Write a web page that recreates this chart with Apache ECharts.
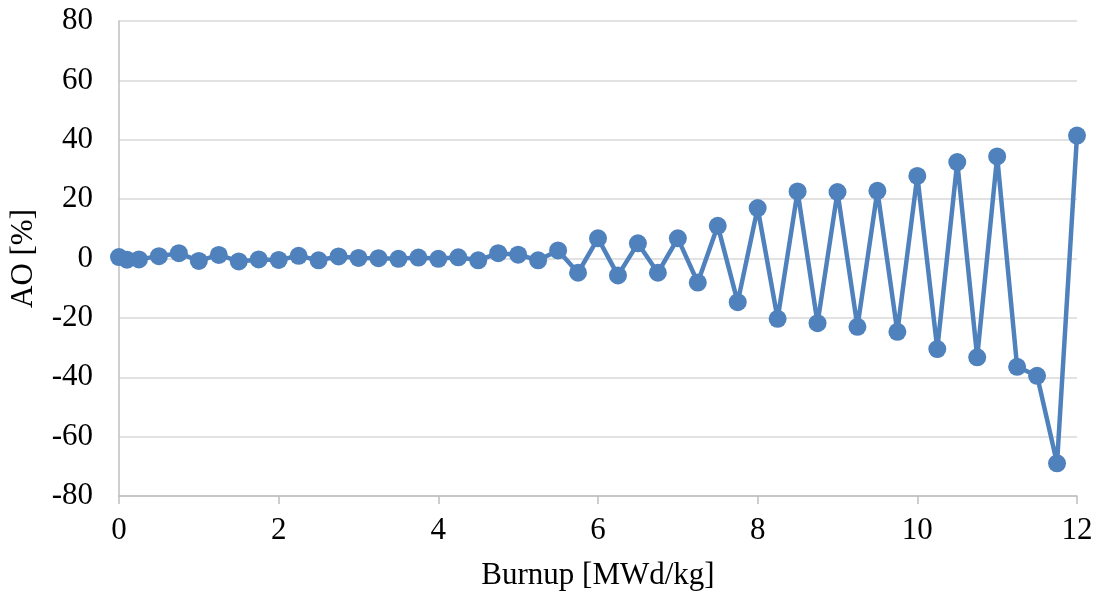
<!DOCTYPE html>
<html>
<head>
<meta charset="utf-8">
<script src="https://cdn.jsdelivr.net/npm/echarts@6/dist/echarts.min.js"></script>
<style>
html,body{margin:0;padding:0;background:#fff;}
#chart{width:1101px;height:596px;}
</style>
</head>
<body>
<div id="chart"></div>
<script>
const burnup = [0, 0.1, 0.25, 0.5, 0.75, 1.0, 1.25, 1.5, 1.75, 2.0, 2.25, 2.5, 2.75, 3.0, 3.25, 3.5, 3.75, 4.0, 4.25, 4.5, 4.75, 5.0, 5.25, 5.5, 5.75, 6.0, 6.25, 6.5, 6.75, 7.0, 7.25, 7.5, 7.75, 8.0, 8.25, 8.5, 8.75, 9.0, 9.25, 9.5, 9.75, 10.0, 10.25, 10.5, 10.75, 11.0, 11.25, 11.5, 11.75, 12.0];
const ao = [0.5, -0.4, -0.3, 0.8, 1.8, -0.8, 1.2, -1.0, -0.3, -0.5, 0.9, -0.6, 0.7, 0.2, 0.1, -0.1, 0.3, -0.1, 0.4, -0.6, 1.8, 1.3, -0.6, 2.7, -4.8, 6.8, -5.7, 5.1, -4.8, 6.8, -8.1, 11.0, -14.7, 17.0, -20.3, 22.6, -21.8, 22.4, -23.0, 22.8, -24.7, 27.8, -30.5, 32.5, -33.3, 34.4, -36.5, -39.5, -69.0, 41.4];
const xTitle = 'Burnup [MWd/kg]';
const yTitle = 'AO [%]';

const font = '"Liberation Serif", "Times New Roman", serif';
const chart = echarts.init(document.getElementById('chart'), null, {renderer: 'canvas'});
chart.setOption({
  animation: false,
  backgroundColor: '#ffffff',
  grid: {left: 118, right: 24, top: 21, bottom: 99, containLabel: false},
  xAxis: {
    type: 'value', min: 0, max: 12, interval: 2,
    name: xTitle, nameLocation: 'middle', nameGap: 64,
    nameTextStyle: {fontFamily: font, fontSize: 31, color: '#000'},
    axisLine: {onZero: false, lineStyle: {color: '#BFBFBF', width: 1.5}},
    axisTick: {show: true, inside: false, length: 8, lineStyle: {color: '#BFBFBF', width: 1.5}},
    axisLabel: {fontFamily: font, fontSize: 31, color: '#000', margin: 19},
    splitLine: {show: false}
  },
  yAxis: {
    type: 'value', min: -80, max: 80, interval: 20,
    name: yTitle, nameLocation: 'middle', nameGap: 80,
    nameTextStyle: {fontFamily: font, fontSize: 31, color: '#000'},
    axisLine: {show: true, onZero: false, lineStyle: {color: '#BFBFBF', width: 1.5}},
    axisTick: {show: false},
    axisLabel: {fontFamily: font, fontSize: 31, color: '#000', margin: 26},
    splitLine: {show: true, lineStyle: {color: '#D9D9D9', width: 1.5}}
  },
  series: [{
    type: 'line',
    data: burnup.map((b, i) => [b, ao[i]]),
    symbol: 'circle', symbolSize: 18,
    lineStyle: {color: '#4F81BD', width: 4.5},
    itemStyle: {color: '#4F81BD'},
    clip: false
  }]
});
</script>
</body>
</html>
